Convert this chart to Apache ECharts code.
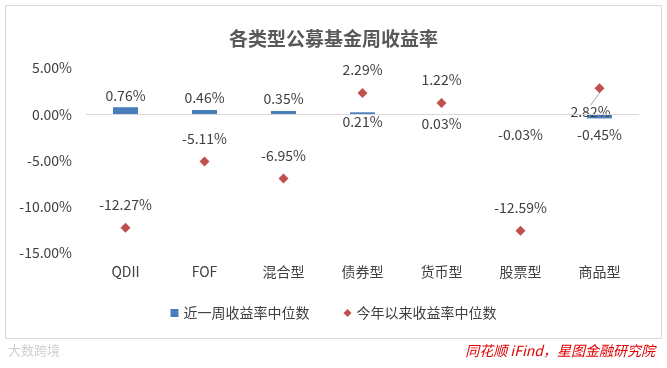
<!DOCTYPE html>
<html>
<head>
<meta charset="utf-8">
<script src="https://cdn.jsdelivr.net/npm/echarts@6/dist/echarts.min.js"></script>
<style>
html,body{margin:0;padding:0;background:#fff;}
#c{width:667px;height:368px;}
</style>
</head>
<body>
<div id="c"></div>
<script>
var categories = ['QDII', 'FOF', '混合型', '债券型', '货币型', '股票型', '商品型'];
var weeklyMedian = [0.76, 0.46, 0.35, 0.21, 0.03, -0.03, -0.45];
var ytdMedian = [-12.27, -5.11, -6.95, 2.29, 1.22, -12.59, 2.82];
var yTicks = {min: -15, max: 5, interval: 5};

var FONT = '"Microsoft YaHei","Noto Sans CJK SC","Noto Sans",sans-serif';
var txt = '#404040';

// bar label placement per category (style only)
var barLabelCfg = [
  {position: 'top', distance: 5},
  {position: 'top', distance: 5},
  {position: 'top', distance: 5},
  {position: 'bottom', distance: 0},
  {position: 'bottom', distance: 2},
  {position: 'bottom', distance: 13},
  {position: 'bottom', distance: 9}
];
var barData = weeklyMedian.map(function (v, i) {
  return {value: v, label: barLabelCfg[i]};
});
var scatterData = ytdMedian.map(function (v, i) {
  if (i === 6) {
    return {value: v, label: {position: 'inside'}, labelLine: {show: true}};
  }
  return {value: v};
});

var chart = echarts.init(document.getElementById('c'));
chart.setOption({
  animation: false,
  backgroundColor: '#fff',
  title: {
    text: '各类型公募基金周收益率',
    left: 'center',
    top: 24,
    textStyle: {fontFamily: FONT, fontSize: 19, fontWeight: 'bold', color: '#595959'}
  },
  legend: {
    bottom: 43,
    left: 'center',
    itemGap: 34,
    itemWidth: 8,
    itemHeight: 8,
    textStyle: {fontFamily: FONT, fontSize: 14, color: txt},
    data: [
      {name: '近一周收益率中位数', icon: 'rect'},
      {name: '今年以来收益率中位数', icon: 'diamond'}
    ]
  },
  grid: {left: 86, right: 28, top: 68, bottom: 115},
  xAxis: {
    type: 'category',
    data: categories,
    position: 'bottom',
    axisLine: {show: false, onZero: false},
    axisTick: {show: false},
    axisLabel: {fontFamily: FONT, fontSize: 14, color: txt, margin: 12}
  },
  yAxis: {
    type: 'value',
    min: yTicks.min,
    max: yTicks.max,
    interval: yTicks.interval,
    axisLine: {show: false},
    axisTick: {show: false},
    splitLine: {show: false},
    axisLabel: {
      fontFamily: FONT, fontSize: 14, color: txt, margin: 14,
      formatter: function (v) { return v.toFixed(2) + '%'; }
    }
  },
  series: [
    {
      name: '近一周收益率中位数',
      type: 'bar',
      data: barData,
      barWidth: 25,
      itemStyle: {color: '#4a7ebb'},
      label: {
        show: true,
        fontFamily: FONT, fontSize: 14, color: txt,
        formatter: function (p) { return p.value.toFixed(2) + '%'; }
      },
      markLine: {
        silent: true,
        symbol: 'none',
        label: {show: false},
        lineStyle: {color: '#d9d9d9', type: 'solid', width: 1},
        data: [{yAxis: 0}]
      },
      z: 3
    },
    {
      name: '今年以来收益率中位数',
      type: 'scatter',
      data: scatterData,
      symbol: 'diamond',
      symbolSize: 10,
      itemStyle: {color: '#c0504d', opacity: 1},
      label: {
        show: true,
        position: 'top',
        distance: 11,
        fontFamily: FONT, fontSize: 14, color: txt,
        formatter: function (p) { return p.value.toFixed(2) + '%'; }
      },
      labelLine: {show: false, lineStyle: {color: '#a6a6a6', width: 1}},
      labelLayout: function (p) {
        if (p.dataIndex === 6) { return {dx: -9, dy: 24}; }
        return {};
      },
      z: 4
    }
  ],
  graphic: [
    {
      type: 'rect',
      shape: {x: 5.5, y: 5.5, width: 656, height: 333},
      style: {fill: 'none', stroke: '#d9d9d9', lineWidth: 1},
      silent: true, z: -1
    },
    {
      type: 'text',
      left: 8, top: 344,
      style: {text: '大数跨境', fill: '#cfcfcf', font: '13px ' + FONT}
    },
    {
      type: 'text',
      right: 12, top: 344,
      style: {text: '同花顺 iFind，星图金融研究院', fill: '#e00000', font: 'italic 14px ' + FONT}
    }
  ]
});
</script>
</body>
</html>
